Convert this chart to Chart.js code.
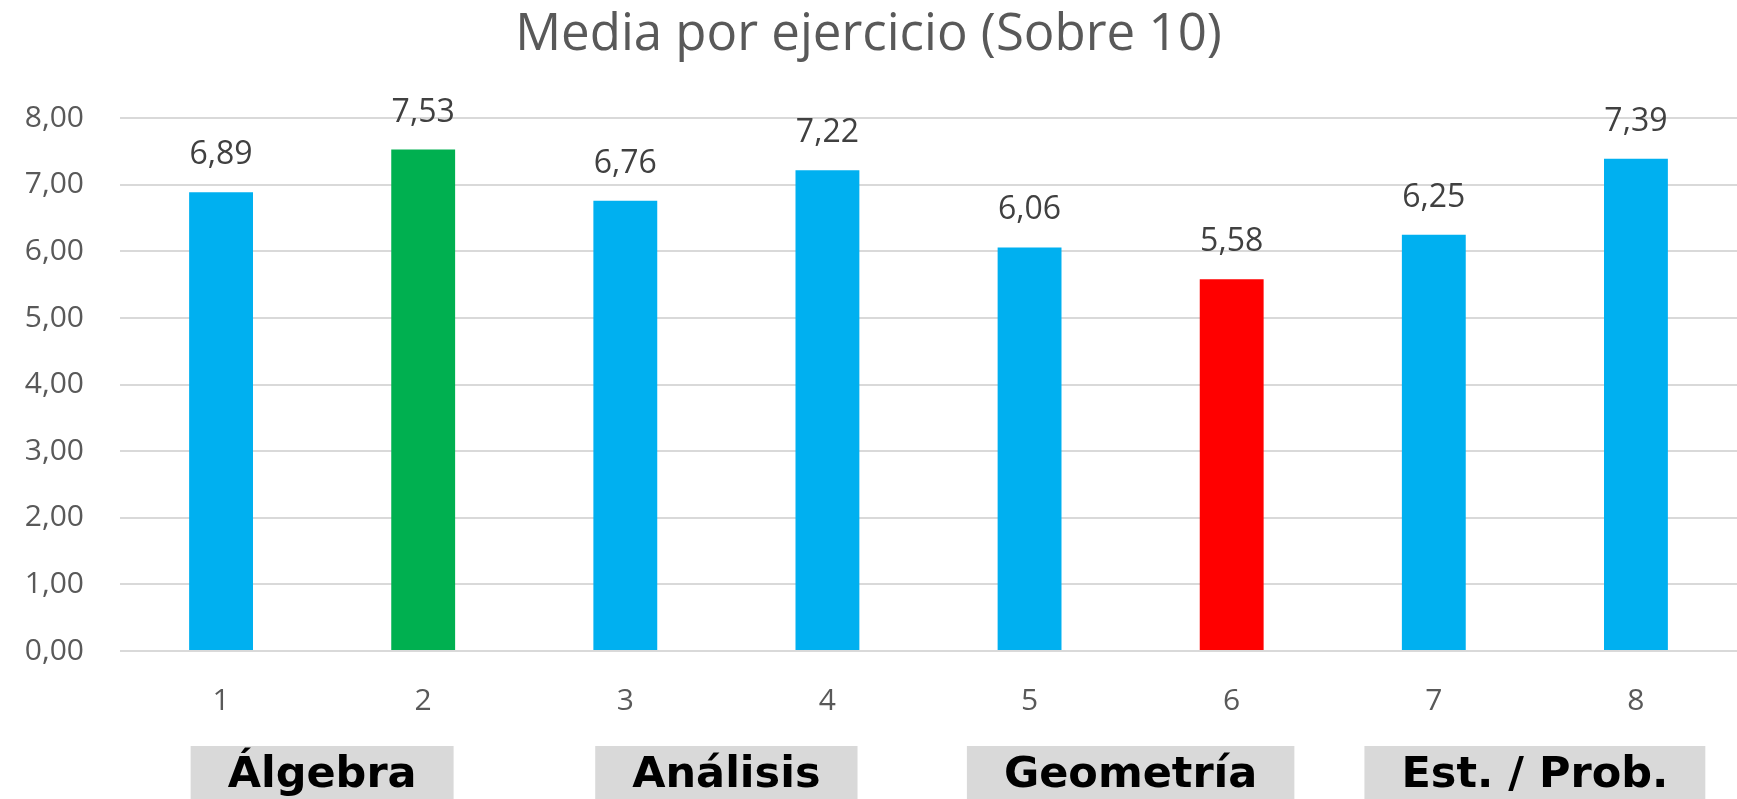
<!DOCTYPE html>
<html>
<head>
<meta charset="utf-8">
<script src="https://cdn.jsdelivr.net/npm/chart.js@4.4.0/dist/chart.umd.min.js"></script>
<style>
  html, body { margin:0; padding:0; background:#fff; }
  #wrap { width:1737px; height:799px; position:relative; }
</style>
</head>
<body>
<div id="wrap"><canvas id="chart"></canvas></div>
<script>
// Datos
const ejercicios = ['1','2','3','4','5','6','7','8'];
const medias = [6.89, 7.53, 6.76, 7.22, 6.06, 5.58, 6.25, 7.39];
const colores = ['#00b0f0','#00b050','#00b0f0','#00b0f0','#00b0f0','#ff0000','#00b0f0','#00b0f0'];
const bloques = ['Álgebra','Análisis','Geometría','Est. / Prob.'];
const bloqueDesde = [0, 2, 4, 6];
const bloqueHasta = [1, 3, 5, 7];

const fmt = v => Number(v).toFixed(2).replace('.', ',');

// etiquetas encima de las barras
const etiquetas = {
    id:'etiquetas',
    afterDatasetsDraw(chart){
        const ctx = chart.ctx;
        const meta = chart.getDatasetMeta(0);
        ctx.save();
        ctx.font = '32px "Open Sans"';
        ctx.fillStyle = '#404040';
        ctx.textAlign = 'center';
        ctx.textBaseline = 'alphabetic';
        meta.data.forEach((bar,i)=>{
            ctx.fillText(fmt(medias[i]), bar.x, bar.y - 28);
        });
        ctx.restore();
    }
};

// cajas de bloques bajo el eje
const cajas = {
    id:'cajas',
    afterDraw(chart){
        const ctx = chart.ctx;
        const x = chart.scales.x;
        ctx.save();
        ctx.font = 'bold 43px "DejaVu Sans"';
        ctx.textAlign = 'center';
        ctx.textBaseline = 'middle';
        bloques.forEach((b,i)=>{
            const cx = (x.getPixelForValue(bloqueDesde[i]) + x.getPixelForValue(bloqueHasta[i]))/2;
            const w = ctx.measureText(b).width + 74;
            const top = chart.chartArea.bottom + 95;
            ctx.fillStyle = '#d9d9d9';
            ctx.fillRect(cx - w/2, top, w, 70);
            ctx.fillStyle = '#000';
            ctx.fillText(b, cx, top + 30);
        });
        ctx.restore();
    }
};

new Chart(document.getElementById('chart').getContext('2d'),{
    type:'bar',
    data:{
        labels: ejercicios,
        datasets:[{ data: medias, backgroundColor: colores, barPercentage:0.316, categoryPercentage:1 }]
    },
    options:{
        responsive:true,
        maintainAspectRatio:false,
        animation:false,
        layout:{ padding:{ left:0, right:0, top:0, bottom:48 } },
        plugins:{
            legend:{ display:false },
            tooltip:{ enabled:false },
            title:{
                display:true,
                text:'Media por ejercicio (Sobre 10)',
                color:'#595959',
                font:{ family:'Open Sans', size:51, weight:'normal' },
                padding:{ top:5, bottom:52 }
            }
        },
        scales:{
            y:{
                min:0, max:8,
                afterFit(scale){ scale.width = 120; },
                ticks:{ stepSize:1, callback:v=>fmt(v), color:'#595959', font:{ family:'Open Sans', size:30 }, padding:36 },
                grid:{ color:'#d9d9d9', lineWidth:2, drawTicks:false },
                border:{ display:false }
            },
            x:{
                ticks:{ color:'#595959', font:{ family:'Open Sans', size:30 }, padding:32 },
                grid:{ display:false, drawTicks:false },
                border:{ display:false }
            }
        }
    },
    plugins:[etiquetas, cajas]
});
</script>
</body>
</html>
